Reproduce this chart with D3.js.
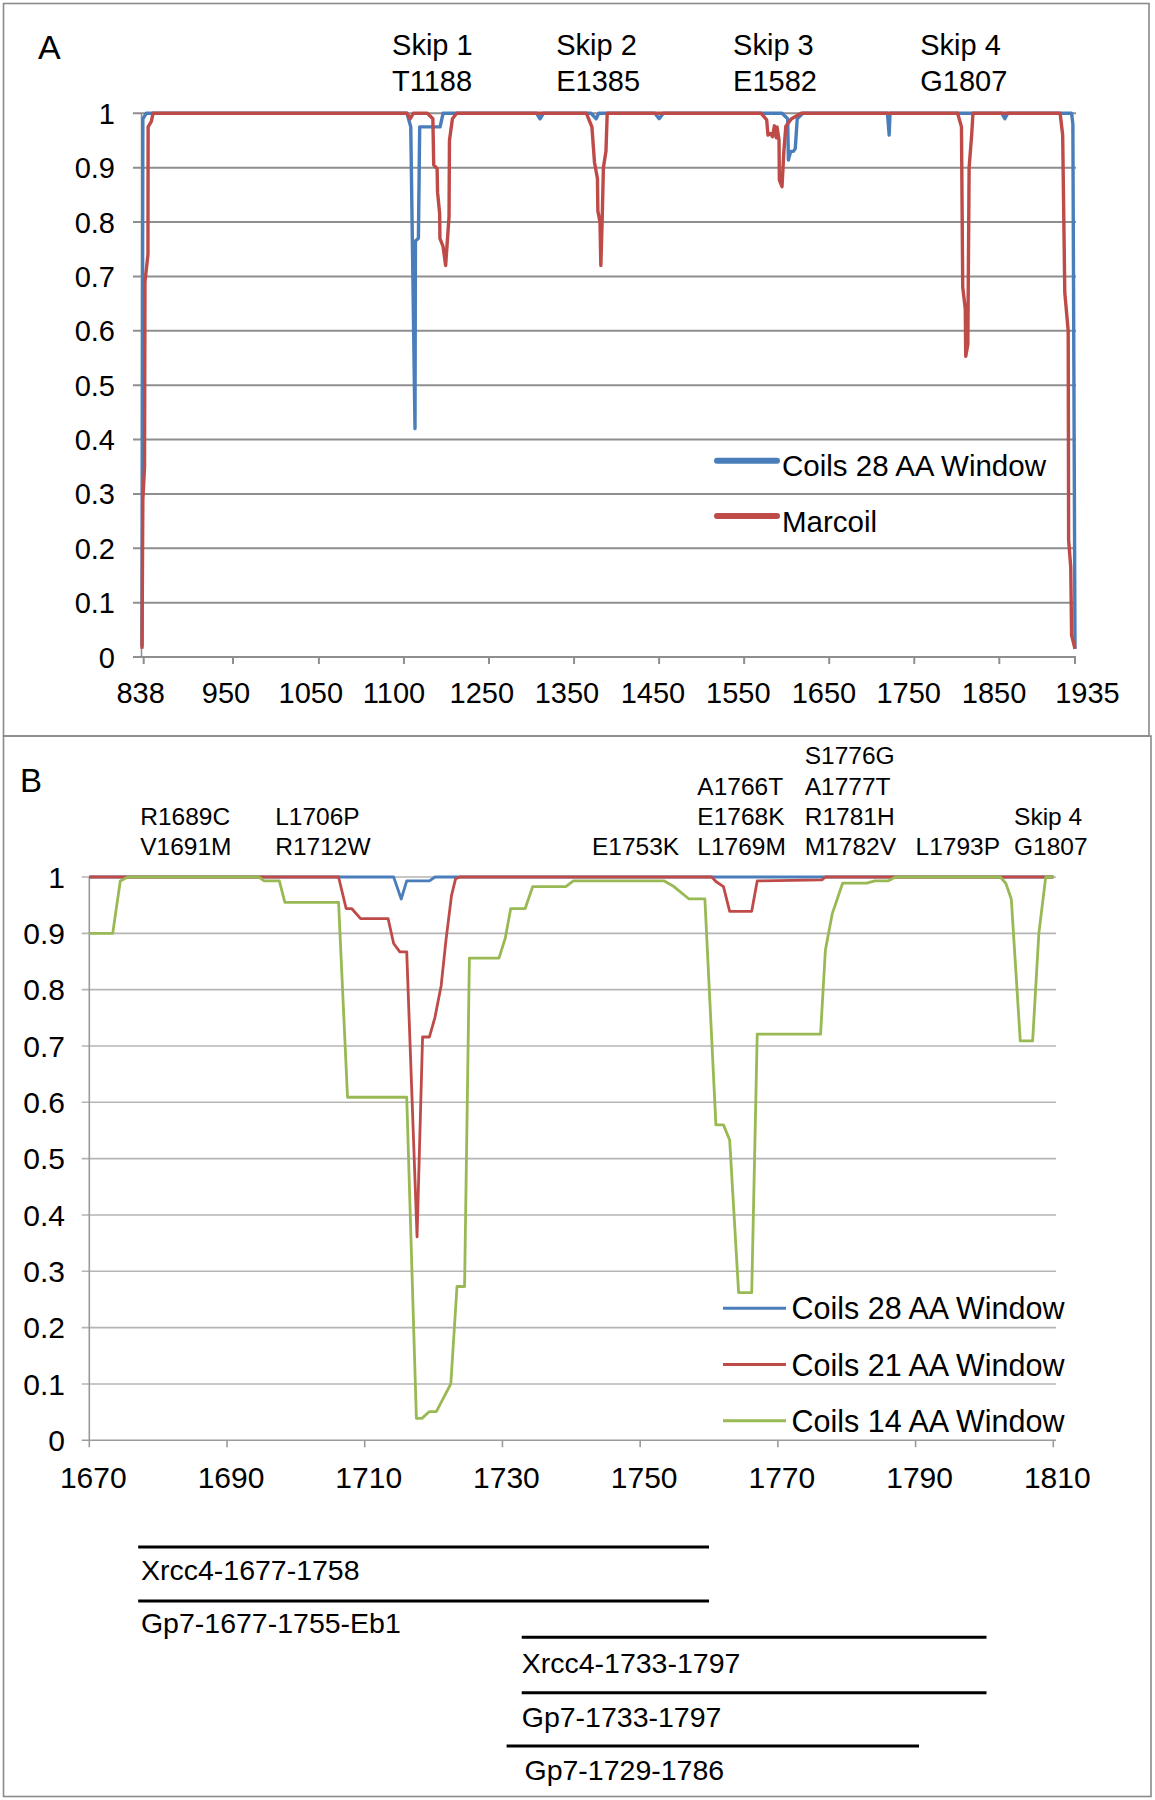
<!DOCTYPE html>
<html><head><meta charset="utf-8">
<script src="https://cdn.jsdelivr.net/npm/d3@7"></script>
<style>
body{margin:0;background:#fff}
svg{display:block}
text{font-family:"Liberation Sans",Arial,Helvetica,sans-serif;fill:#000}
</style>
</head><body>
<svg id="c" width="1155" height="1800"></svg>
<script>
// ---------- DATA ----------
// Panel A : residue position, probability
const seriesNamesA = ["Coils 28 AA Window", "Marcoil"];
const coils28A = [
  [838,0.02],[838.3,0.3],[839,0.99],[843,1],
  [1149.5,1],[1154,0.975],[1159,0.42],[1159.5,0.765],[1163,0.77],[1164.5,0.975],[1188.5,0.975],[1192,1],
  [1302,1],[1306,0.99],[1310,1],
  [1366,1],[1372,0.99],[1375,1],
  [1441,1],[1446,0.99],[1451,1],
  [1590.5,1],[1597.2,0.99],[1598,0.914],[1600.7,0.93],[1603.9,0.93],[1606.1,0.935],[1608.4,0.99],[1615,1],
  [1714.5,1],[1716.5,0.96],[1717.5,1],
  [1849,1],[1852.5,0.99],[1856,1],
  [1931,1],[1932.5,0.98],[1935,0.015]
];
const marcoilA = [
  [838,0.015],[839,0.29],[841,0.35],[841.5,0.69],[845,0.74],[845.2,0.975],[849,0.985],[851,1],
  [1149.5,1],[1153.5,0.99],[1157,1],[1173.5,1],[1180,0.99],[1181,0.905],[1185,0.898],[1185.5,0.855],
  [1188,0.815],[1188.3,0.77],[1192,0.755],[1195,0.72],[1199,0.81],[1199.5,0.95],[1203,0.99],[1208,1],
  [1360.5,1],[1367,0.975],[1370,0.91],[1373.5,0.88],[1374,0.82],[1376.5,0.8],[1377.5,0.72],[1379,0.8],
  [1380.5,0.9],[1383.5,0.93],[1385,1],
  [1566,1],[1572.5,0.988],[1574,0.96],[1577,0.963],[1579.3,0.957],[1581.6,0.977],[1583.8,0.955],
  [1584.7,0.975],[1587,0.951],[1587.4,0.877],[1590.5,0.865],[1592.7,0.93],[1595,0.976],[1601.7,0.99],[1613,1],
  [1797,1],[1801.5,0.975],[1803,0.68],[1806,0.64],[1806.5,0.553],[1809,0.575],[1810.5,0.9],[1813.5,0.96],[1815,1],
  [1917.5,1],[1920.5,0.96],[1923,0.67],[1927,0.6],[1927.5,0.215],[1930,0.165],[1931,0.04],[1935,0.015]
];
// tick mark positions and label positions (category axis; labels are not centred on ticks)
const xTickPosA = [840, 945, 1046, 1146, 1246, 1346, 1446, 1546, 1646, 1746, 1846, 1935];
const xTickLabelPosA = [836.4, 936.8, 1036.5, 1134.3, 1237.6, 1337.7, 1438.8, 1539.1, 1639.8, 1739.5, 1839.8, 1949.7];
const xTickLabelsA = ["838","950","1050","1100","1250","1350","1450","1550","1650","1750","1850","1935"];
const yTicks = [0,0.1,0.2,0.3,0.4,0.5,0.6,0.7,0.8,0.9,1];
const yTickLabels = ["0","0.1","0.2","0.3","0.4","0.5","0.6","0.7","0.8","0.9","1"];
const skipLabelsA = [["Skip 1","T1188"],["Skip 2","E1385"],["Skip 3","E1582"],["Skip 4","G1807"]];
const skipAnchorsA = [1132, 1325, 1533, 1753];

// Panel B
const seriesNamesB = ["Coils 28 AA Window", "Coils 21 AA Window", "Coils 14 AA Window"];
const coils28B = [[1670,1],[1714.2,1],[1715.3,0.961],[1716.1,0.993],[1719.4,0.993],[1720.2,1],[1810,1]];
const coils21B = [
  [1670,1],[1706.2,1],[1707.3,0.944],[1708.1,0.944],[1709.4,0.926],[1713.4,0.926],[1714.2,0.882],
  [1715.1,0.867],[1716.1,0.867],[1717.6,0.361],[1718.4,0.716],[1719.4,0.716],[1720.2,0.751],[1721.1,0.807],
  [1721.8,0.888],[1722.6,0.967],[1723.2,0.997],[1723.8,1],[1760.4,1],[1761,0.992],[1762.1,0.983],
  [1763,0.939],[1766.2,0.939],[1767,0.993],[1776.4,0.995],[1776.9,1],[1810,1]
];
const coils14B = [
  [1670,0.9],[1673.4,0.9],[1674.5,0.993],[1675.6,1],[1694.6,1],[1695.4,0.993],[1697.6,0.993],[1698.4,0.955],
  [1706.2,0.955],[1707.5,0.609],[1716.1,0.609],[1717.5,0.039],[1718.3,0.039],[1719.4,0.051],[1720.4,0.051],
  [1722.5,0.1],[1723.4,0.273],[1724.5,0.273],[1725.2,0.856],[1729.5,0.856],[1730.4,0.891],[1731.2,0.944],
  [1733.3,0.944],[1734.4,0.983],[1739.2,0.983],[1740.3,0.993],[1753.5,0.993],[1754.9,0.983],[1757.1,0.961],
  [1759.4,0.961],[1761,0.56],[1762.1,0.56],[1763,0.533],[1764.3,0.262],[1766.2,0.262],[1767,0.721],
  [1776.2,0.721],[1776.9,0.87],[1777.9,0.935],[1779.4,0.989],[1782.9,0.989],[1784.1,0.993],[1786,0.993],
  [1787.1,1],[1802.3,1],[1803.1,0.989],[1803.9,0.961],[1805.2,0.709],[1807,0.709],[1807.9,0.9],[1808.9,1],[1810,1]
];
const xTicksB = [1670,1690,1710,1730,1750,1770,1790,1810];
const mutationGroupsB = [
  ["R1689C","V1691M"],["L1706P","R1712W"],["E1753K"],["A1766T","E1768K","L1769M"],
  ["S1776G","A1777T","R1781H","M1782V"],["L1793P"],["Skip 4","G1807"]
];
const mutationAnchorsB = [1677.4, 1697, 1743, 1758.3, 1773.9, 1790, 1804.3];

// Constructs (bars under panel B)
const constructNames = ["Xrcc4-1677-1758","Gp7-1677-1755-Eb1","Xrcc4-1733-1797","Gp7-1733-1797","Gp7-1729-1786"];
const constructStart = [1677.1, 1677.1, 1732.8, 1732.8, 1730.6];
const constructEnd   = [1760, 1760, 1800.3, 1800.3, 1790.5];
const constructLabelAt = [1677.5, 1677.5, 1732.8, 1732.8, 1733.2];

// ---------- DRAW ----------
const BLUE = "#4A7EBB", RED = "#BE4B48", GREEN = "#98B954";
const svg = d3.select("#c");
svg.append("rect").attr("width",1155).attr("height",1800).attr("fill","#fff");

// panel frames
svg.append("rect").attr("x",3.5).attr("y",3.5).attr("width",1145.5).attr("height",732.5)
  .attr("fill","none").attr("stroke","#8a8a8a").attr("stroke-width",1.6);
svg.append("rect").attr("x",3.5).attr("y",736).attr("width",1147.5).attr("height",1060.5)
  .attr("fill","none").attr("stroke","#8a8a8a").attr("stroke-width",1.6);

// ===== Panel A =====
const xA = d3.scaleLinear().domain([838,1935]).range([142,1075]);
const yA = d3.scaleLinear().domain([0,1]).range([657,113.3]);
const gA = svg.append("g");
const gridA = "#8e8e8e";
gA.selectAll("line.grid").data(yTicks).join("line")
  .attr("x1",133).attr("x2",1076).attr("y1",d=>yA(d)).attr("y2",d=>yA(d))
  .attr("stroke",gridA).attr("stroke-width",2);
gA.append("line").attr("x1",141.5).attr("x2",141.5).attr("y1",yA(1)).attr("y2",yA(0))
  .attr("stroke",gridA).attr("stroke-width",1.5);
gA.selectAll("line.tick").data(xTickPosA).join("line")
  .attr("x1",d=>xA(d)).attr("x2",d=>xA(d)).attr("y1",yA(0)).attr("y2",yA(0)+7)
  .attr("stroke",gridA).attr("stroke-width",2);
gA.selectAll("text.yl").data(yTicks).join("text")
  .attr("x",115).attr("y",d=>yA(d)+10.5).attr("text-anchor","end")
  .attr("font-size",29).text((d,i)=>yTickLabels[i]);
gA.selectAll("text.xl").data(xTickLabelPosA).join("text")
  .attr("x",d=>xA(d)).attr("y",703).attr("text-anchor","middle")
  .attr("font-size",29).text((d,i)=>xTickLabelsA[i]);

const lineA = d3.line().x(d=>xA(d[0])).y(d=>yA(d[1]));
gA.append("path").datum(coils28A).attr("d",lineA).attr("fill","none")
  .attr("stroke",BLUE).attr("stroke-width",3.4).attr("stroke-linejoin","round");
gA.append("path").datum(marcoilA).attr("d",lineA).attr("fill","none")
  .attr("stroke",RED).attr("stroke-width",3.4).attr("stroke-linejoin","round");

// skip annotations
skipLabelsA.forEach((lines,i)=>{
  lines.forEach((t,j)=>{
    gA.append("text").attr("x",xA(skipAnchorsA[i])).attr("y",55+36*j)
      .attr("font-size",29).text(t);
  });
});
gA.append("text").attr("x",38).attr("y",59).attr("font-size",34).text("A");

// legend A
[BLUE,RED].forEach((c,i)=>{
  const y = 460.7 + i*55.3;
  gA.append("line").attr("x1",717).attr("x2",777).attr("y1",y).attr("y2",y)
    .attr("stroke",c).attr("stroke-width",6).attr("stroke-linecap","round");
  gA.append("text").attr("x",782).attr("y",y+15.5).attr("font-size",29.5).text(seriesNamesA[i]);
});

// ===== Panel B =====
const xB = d3.scaleLinear().domain([1670,1810]).range([89.3,1053.3]);
const yB = d3.scaleLinear().domain([0,1]).range([1440.3,877]);
const gB = svg.append("g");
const gridB = "#b5b5b5";
gB.selectAll("line.grid").data(yTicks.filter(d=>d>0)).join("line")
  .attr("x1",81.7).attr("x2",1056).attr("y1",d=>yB(d)).attr("y2",d=>yB(d))
  .attr("stroke",gridB).attr("stroke-width",1.6);
gB.append("line").attr("x1",81.7).attr("x2",1056).attr("y1",yB(0)).attr("y2",yB(0))
  .attr("stroke","#9a9a9a").attr("stroke-width",1.6);
gB.append("line").attr("x1",89.3).attr("x2",89.3).attr("y1",yB(1)).attr("y2",yB(0))
  .attr("stroke","#9a9a9a").attr("stroke-width",1.6);
gB.selectAll("line.tick").data(xTicksB).join("line")
  .attr("x1",d=>xB(d)).attr("x2",d=>xB(d)).attr("y1",yB(0)).attr("y2",yB(0)+7)
  .attr("stroke","#9a9a9a").attr("stroke-width",1.6);
gB.selectAll("text.yl").data(yTicks).join("text")
  .attr("x",65).attr("y",d=>yB(d)+10.8).attr("text-anchor","end")
  .attr("font-size",30).text((d,i)=>yTickLabels[i]);
gB.selectAll("text.xl").data(xTicksB).join("text")
  .attr("x",d=>xB(d)+4).attr("y",1488).attr("text-anchor","middle")
  .attr("font-size",30).text(d=>d);

const lineB = d3.line().x(d=>xB(d[0])).y(d=>yB(d[1]));
[[coils28B,BLUE],[coils21B,RED],[coils14B,GREEN]].forEach(([s,c])=>{
  gB.append("path").datum(s).attr("d",lineB).attr("fill","none")
    .attr("stroke",c).attr("stroke-width",2.8).attr("stroke-linejoin","round");
});

// mutation annotations
mutationGroupsB.forEach((lines,i)=>{
  const n = lines.length;
  lines.forEach((t,j)=>{
    gB.append("text").attr("x",xB(mutationAnchorsB[i])).attr("y",855-30.2*(n-1-j))
      .attr("font-size",24.5).text(t);
  });
});
gB.append("text").attr("x",20).attr("y",792).attr("font-size",33).text("B");

// legend B
[BLUE,RED,GREEN].forEach((c,i)=>{
  const y = 1308.3 + i*56.2;
  gB.append("line").attr("x1",723).attr("x2",786).attr("y1",y).attr("y2",y)
    .attr("stroke",c).attr("stroke-width",3);
  gB.append("text").attr("x",791.5).attr("y",y+11).attr("font-size",30.5).text(seriesNamesB[i]);
});

// constructs
const barY = [1547, 1601, 1637.3, 1692.7, 1746];
const labY = [1580, 1633, 1672.7, 1726.7, 1780];
constructNames.forEach((name,i)=>{
  svg.append("line").attr("x1",xB(constructStart[i])).attr("x2",xB(constructEnd[i]))
    .attr("y1",barY[i]).attr("y2",barY[i]).attr("stroke","#000").attr("stroke-width",3);
  svg.append("text").attr("x",xB(constructLabelAt[i])).attr("y",labY[i])
    .attr("font-size",28.5).text(name);
});
</script>
</body></html>
